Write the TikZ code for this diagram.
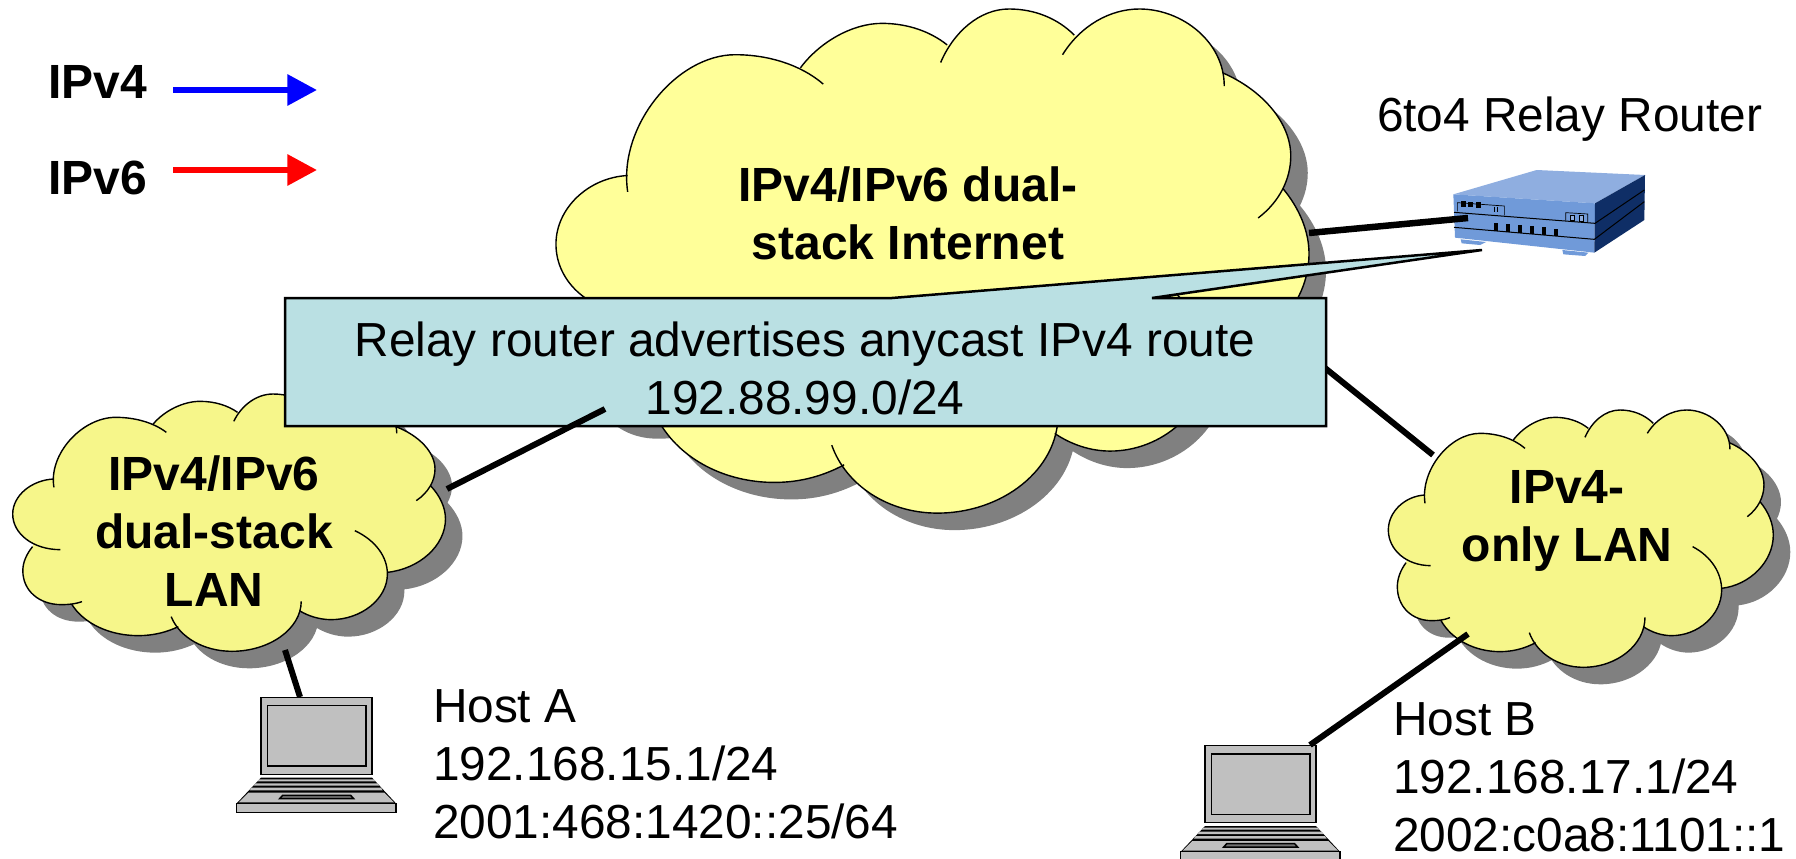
\documentclass[tikz,border=0pt]{standalone}
\usepackage{fontspec}
\setmainfont{Liberation Sans}
\usetikzlibrary{arrows.meta}
\definecolor{bigcloud}{HTML}{FFFF99}
\definecolor{smallcloud}{HTML}{F6F68A}
\definecolor{shadowgray}{HTML}{808080}
\definecolor{calloutfill}{HTML}{BAE0E3}
\definecolor{rtop}{HTML}{8FAEE0}
\definecolor{rfront}{HTML}{709AD9}
\definecolor{rside}{HTML}{0F2E66}
\definecolor{lapgray}{HTML}{C0C0C0}
\tikzset{
  txt/.style={font=\fontsize{47.8}{58}\selectfont,inner sep=0pt,outer sep=0pt,align=left},
  boldtxt/.style={font=\fontsize{48}{58}\selectfont\bfseries,inner sep=0pt,outer sep=0pt,align=center},
  link/.style={draw=black,line width=6pt},
  legendarrow/.style={line width=6pt,-{Triangle[length=29.6pt,width=30pt]}},
  lobe/.style={draw=black,line width=1.4pt,fill=none},
  lapline/.style={draw=black,line width=1.5pt}
}
\newcommand{\LobeA}{(165,280) .. controls (150,180) and (240,70) .. (330,70) .. controls (380,70) and (430,85) .. (465,115)}
\newcommand{\LobeB}{(430,90) .. controls (460,50) and (510,22) .. (555,22) .. controls (595,22) and (630,35) .. (655,55)}
\newcommand{\LobeC}{(645,82) .. controls (665,35) and (705,0) .. (750,0) .. controls (790,0) and (825,15) .. (850,40)}
\newcommand{\LobeD}{(832,70) .. controls (860,25) and (905,0) .. (950,0) .. controls (1015,0) and (1080,50) .. (1080,118)}
\newcommand{\LobeE}{(1078,98) .. controls (1140,125) and (1182,175) .. (1182,225) .. controls (1182,260) and (1165,295) .. (1132,320)}
\newcommand{\LobeF}{(1170,275) .. controls (1195,305) and (1210,340) .. (1210,375) .. controls (1210,455) and (1140,525) .. (1055,535)}
\newcommand{\LobeG}{(968,410) .. controls (1025,440) and (1055,490) .. (1055,540) .. controls (1055,615) and (985,677) .. (905,677) .. controls (875,677) and (845,667) .. (820,650)}
\newcommand{\LobeH}{(825,622) .. controls (825,705) and (740,772) .. (640,772) .. controls (565,772) and (500,730) .. (478,668)}
\newcommand{\LobeI}{(497,698) .. controls (465,715) and (430,725) .. (390,725) .. controls (315,725) and (245,690) .. (212,630)}
\newcommand{\LobeJ}{(240,623) .. controls (222,630) and (205,632) .. (185,632) .. controls (125,632) and (82,590) .. (82,530) .. controls (82,505) and (92,480) .. (108,458)}
\newcommand{\LobeK}{(182,467) .. controls (110,467) and (55,420) .. (55,360) .. controls (55,305) and (105,258) .. (165,255)}
\newcommand{\cloudfillpath}{%
  \LobeA -- cycle \LobeB -- cycle \LobeC -- cycle \LobeD -- cycle \LobeE -- cycle \LobeF -- cycle
  \LobeG -- cycle \LobeH -- cycle \LobeI -- cycle \LobeJ -- cycle \LobeK -- cycle
  (165,255) -- (430,90) -- (650,55) -- (850,40) -- (1078,98) -- (1170,275) -- (1055,535) -- (820,650) -- (497,698) -- (212,630) -- (108,458) -- cycle
}
% #1 tx, #2 ty, #3 sx, #4 sy, #5 fill colour
\newcommand{\cloudat}[5]{%
  \begin{scope}[shift={(#1+17,#2+17)},xscale=#3,yscale=#4]
    \fill[shadowgray] \cloudfillpath;
  \end{scope}
  \begin{scope}[shift={(#1,#2)},xscale=#3,yscale=#4]
    \fill[#5] \cloudfillpath;
    \draw[lobe] \LobeA; \draw[lobe] \LobeB; \draw[lobe] \LobeC; \draw[lobe] \LobeD;
    \draw[lobe] \LobeE; \draw[lobe] \LobeF; \draw[lobe] \LobeG; \draw[lobe] \LobeH;
    \draw[lobe] \LobeI; \draw[lobe] \LobeJ; \draw[lobe] \LobeK;
  \end{scope}
}
% laptop, coordinates in 3x zoom pixels
\newcommand{\laptopat}[2]{%
  \begin{scope}[shift={(#1,#2)},scale=0.33333]
    \filldraw[lapline,fill=lapgray] (183,52) rectangle (516,283);
    \filldraw[lapline,fill=lapgray] (203,77) rectangle (498,258);
    \fill[black] (183,293) -- (516,293) -- (588,370) -- (110,370) -- cycle;
    \fill[lapgray] (178,298) -- (521,298) -- (527,304) -- (172,304) -- cycle;
    \fill[lapgray] (166,310) -- (533,310) -- (538,317) -- (161,317) -- cycle;
    \fill[lapgray] (155,323) -- (543,323) -- (548,331) -- (149,331) -- cycle;
    \fill[lapgray] (145,338) -- (553,338) -- (582,367) -- (116,367) -- cycle;
    \filldraw[lapline,fill=lapgray!60!black] (248,346) -- (452,346) -- (461,356) -- (239,356) -- cycle;
    \filldraw[lapline,fill=lapgray] (110,370) rectangle (588,398);
  \end{scope}
}
\begin{document}
\begin{tikzpicture}[x=1pt,y=-1pt]
\useasboundingbox (0,0) rectangle (1796,859);
\clip (0,0) rectangle (1796,859);

\cloudat{520.1}{9}{0.652}{0.653}{bigcloud}
\cloudat{-7.9}{394}{0.3747}{0.3333}{smallcloud}
\cloudat{1370}{410}{0.3333}{0.3333}{smallcloud}

\node[boldtxt] (inettext) at (908,213) {IPv4/IPv6 dual-\\stack Internet};
\node[boldtxt] (lantexta) at (214,531) {IPv4/IPv6\\dual-stack\\LAN};
\node[boldtxt] (lantextb) at (1567,521) {IPv4-\\only LAN};

% legend
\node[boldtxt,anchor=base west] (v4) at (48,98) {IPv4};
\node[boldtxt,anchor=base west] (v6) at (48,194) {IPv6};
\coordinate (v4a) at (173,90); \coordinate (v4b) at (317,90);
\coordinate (v6a) at (173,170); \coordinate (v6b) at (317,170);
\draw[legendarrow,blue] (v4a) -- (v4b);
\draw[legendarrow,red] (v6a) -- (v6b);

% router
\begin{scope}[shift={(1400,140)},scale=0.33333]
  \fill[rfront] (182,298) -- (258,306) -- (240,315) -- (185,310) -- cycle;
  \fill[rfront] (487,330) -- (565,338) -- (555,348) -- (490,343) -- cycle;
  \fill[rtop] (160,163) -- (410,90) -- (735,105) -- (585,190) -- cycle;
  \fill[rfront] (160,163) -- (585,190) -- (583,338) -- (165,293) -- cycle;
  \fill[rside] (585,190) -- (735,105) -- (733,240) -- (583,338) -- cycle;
  \draw[black,line width=1pt] (162,217) -- (585,250) -- (733,150);
  \draw[black,line width=1pt] (162,262) -- (583,298) -- (733,185);
  \draw[black,line width=.7pt] (172,214) -- (172,188) -- (313,198) -- (313,226);
  \draw[black,line width=.7pt] (497,242) -- (497,218) -- (563,222) -- (563,247);
  \foreach \px/\py in {190/192,212/194,235/195}
    \fill[black] (\px-7,\py-8) rectangle (\px+7,\py+8);
  \foreach \px in {283,293}
    \draw[black,line width=.6pt] (\px,200) -- (\px,215);
  \foreach \px/\py in {517/233,545/235}
    \filldraw[draw=black,line width=1pt,fill=rtop] (\px-6,\py-8) rectangle (\px+6,\py+8);
  \foreach \px/\py in {288/260,323/263,359/266,395/270,432/273,469/277}
    \fill[black] (\px-6,\py-11) rectangle (\px+6,\py+12);
\end{scope}
\node[txt,anchor=base west] (relaylabel) at (1377,131) {6to4 Relay Router};

% connectors under the callout
\coordinate (inetport) at (1309,233);
\coordinate (routerport) at (1468,218);
\draw[link,line width=6.5pt] (inetport) -- (routerport);
\coordinate (boxr) at (1320,364);
\coordinate (lanbport) at (1433,455);
\draw[link] (boxr) -- (lanbport);

% callout
\coordinate (tip) at (1482,250);
\filldraw[draw=black,line width=2.5pt,fill=calloutfill]
  (285,298) -- (892,298) -- (tip) -- (1152,298) -- (1326,298) -- (1326,426) -- (285,426) -- cycle;
\node[txt,align=center] (calltext) at (805,368) {Relay router advertises anycast IPv4 route\\192.88.99.0/24};

% connectors over the callout
\coordinate (boxa) at (605,409);
\coordinate (lanaport) at (447,489);
\draw[link] (boxa) -- (lanaport);
\laptopat{200}{680}
\laptopat{1144}{728.4}
\coordinate (lanadown) at (285,650);
\coordinate (hosta) at (300,697);
\draw[link] (lanadown) -- (hosta);
\coordinate (lanbdown) at (1468,634);
\coordinate (hostb) at (1310,745);
\draw[link] (lanbdown) -- (hostb);

\node[txt,anchor=north west] (hostatext) at (433,690) {Host A\\192.168.15.1/24\\2001:468:1420::25/64};
\node[txt,anchor=north west] (hostbtext) at (1393,703) {Host B\\192.168.17.1/24\\2002:c0a8:1101::1};
\end{tikzpicture}
\end{document}
